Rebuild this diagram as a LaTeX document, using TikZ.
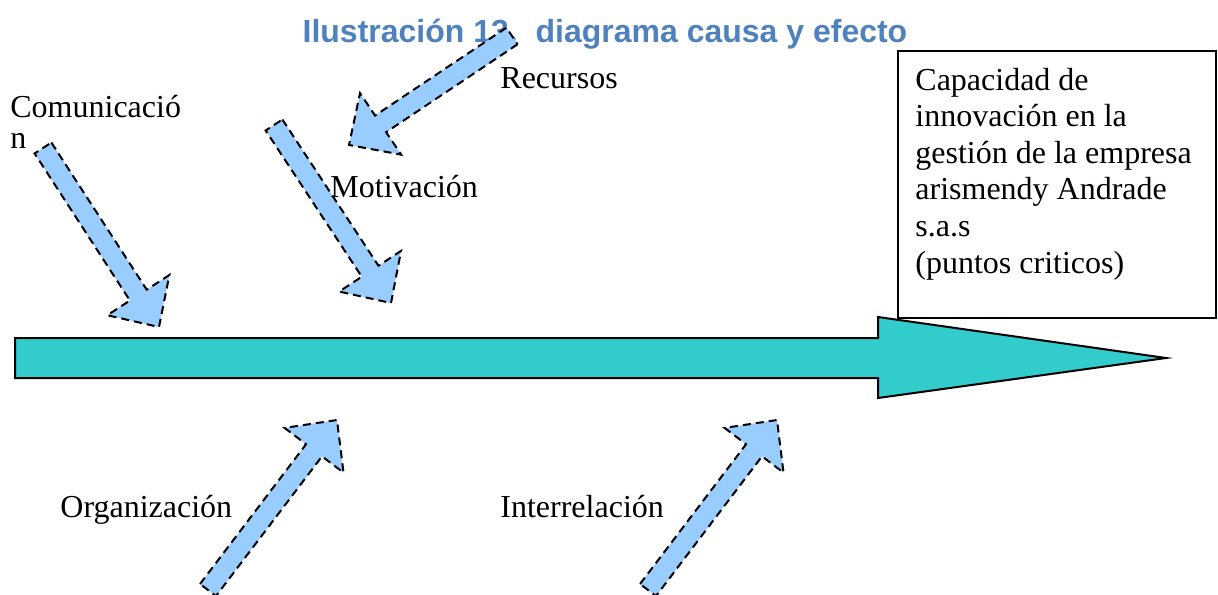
\documentclass[tikz,border=0pt]{standalone}
\usepackage{fontspec}
\setmainfont{Liberation Serif}
\newfontfamily\titlefont{Liberation Sans}
\usetikzlibrary{calc}

\definecolor{spinecyan}{HTML}{33CCCC}
\definecolor{causeblue}{HTML}{99CCFF}
\definecolor{titleblue}{HTML}{4F81BD}

\tikzset{
  causeshape/.style={fill=causeblue, draw=black, line width=1pt,
    dash pattern=on 4pt off 2.5pt, line join=miter},
  causelabel/.style={anchor=base west, inner sep=0pt,
    font=\fontsize{16}{18.3}\selectfont},
}

% block arrow from a tail coordinate to a tip coordinate
\newcommand{\causearrow}[2]{%
  \coordinate (#1neck) at ($(#2)!19pt!(#1)$);
  \draw[causeshape] ($(#1)!5pt!90:(#2)$) -- ($(#1neck)!5pt!90:(#2)$)
    -- ($(#1neck)!18.5pt!90:(#2)$) -- (#2)
    -- ($(#1neck)!18.5pt!-90:(#2)$) -- ($(#1neck)!5pt!-90:(#2)$)
    -- ($(#1)!5pt!-90:(#2)$) -- cycle;
}

\begin{document}
\begin{tikzpicture}[x=0.5pt,y=-0.5pt]
    \useasboundingbox (0,0) rectangle (1218,594);

    \node[anchor=base, inner sep=0pt, text=titleblue,
      font=\titlefont\bfseries\fontsize{16}{19}\selectfont] (title) at (605,42)
      {Ilustración 13.\ \ diagrama causa y efecto};

    % spine
    \draw[fill=spinecyan, line width=1pt] (15,338) -- (878,338) -- (878,317)
      -- (1166,358) -- (878,398) -- (878,378) -- (15,378) -- cycle;

    % effect (base anchor sits on the last line)
    \node[draw, line width=1pt, anchor=north west, inner sep=0pt,
      minimum width=159pt, minimum height=133.5pt] (goal) at (897,50) {};
    \node[causelabel, align=left] (goaltext) at (915,273)
      {Capacidad de\\innovación en la\\gestión de la empresa\\arismendy Andrade\\s.a.s\\(puntos criticos)};

    % causes
    \coordinate (comTail) at (43,148);
    \coordinate (comTip) at (159,327);
    \coordinate (motTail) at (274,125);
    \coordinate (motTip) at (391,303);
    \coordinate (recTail) at (512,36);
    \coordinate (recTip) at (349,145);
    \coordinate (orgTail) at (208,590);
    \coordinate (orgTip) at (337,420);
    \coordinate (intTail) at (648,590);
    \coordinate (intTip) at (777,420);

    \causearrow{comTail}{comTip}
    \causearrow{motTail}{motTip}
    \causearrow{recTail}{recTip}
    \causearrow{orgTail}{orgTip}
    \causearrow{intTail}{intTip}

    \node[causelabel, align=left, font=\fontsize{16}{15.5}\selectfont] (com) at (10,148) {Comunicació\\n};
    \node[causelabel] (rec) at (500,88) {Recursos};
    \node[causelabel] (mot) at (330,197) {Motivación};
    \node[causelabel] (org) at (60,517) {Organización};
    \node[causelabel] (int) at (500,517) {Interrelación};
\end{tikzpicture}
\end{document}
